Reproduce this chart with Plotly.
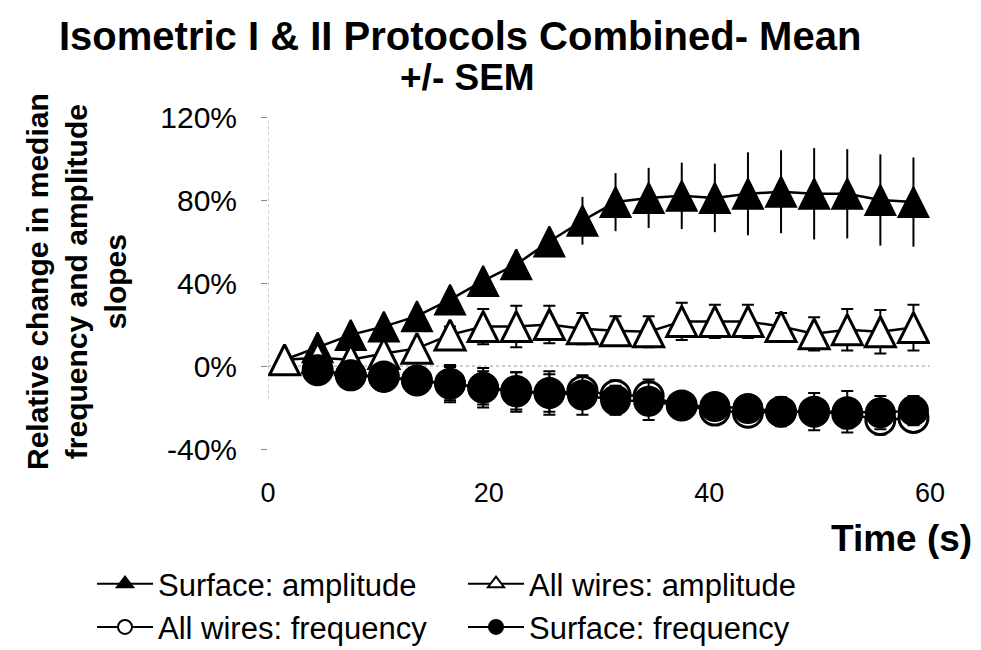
import plotly.graph_objects as go

# ---------------- data ----------------
time = [1.5, 4.5, 7.5, 10.5, 13.5, 16.5, 19.5, 22.5, 25.5, 28.5,
        31.5, 34.5, 37.5, 40.5, 43.5, 46.5, 49.5, 52.5, 55.5, 58.5]

surface_amp = [3, 9, 15, 19, 24, 32, 41, 49, 60, 70,
               79, 81, 82, 81, 83, 84, 83, 83, 80, 79]
surface_amp_sem = [0, 1, 2, 2, 3, 3, 4, 4, 6, 11.5,
                   14, 14.5, 16, 16.5, 20, 20, 22, 21.5, 22, 21.5]

wires_amp = [3, 4, 3, 6, 8.5, 15, 19, 19, 20, 18,
             17, 16.5, 21.5, 21.5, 21.5, 19, 15.5, 17.5, 16.5, 18.5]
wires_amp_sem = [0, 1, 2, 2, 3, 4, 8.5, 10, 9, 7.5,
                 7, 7.5, 9, 8, 8, 6.5, 8, 10, 10.5, 11]

time_freq = [4.5, 7.5, 10.5, 13.5, 16.5, 19.5, 22.5, 25.5, 28.5,
             31.5, 34.5, 37.5, 40.5, 43.5, 46.5, 49.5, 52.5, 55.5, 58.5]

wires_freq = [-2, -4.5, -5, -7, -8.5, -10.5, -12, -13, -12,
              -14, -14.5, -19, -21.5, -22.5, -22, -22, -23, -26, -25]
wires_freq_sem = [1, 2, 3, 4, 8, 8, 9, 9, 6,
                  7, 8, 6, 6, 6, 6, 6, 7, 7, 6]

surface_freq = [-2, -4.5, -5.5, -7, -8.5, -10.5, -12.5, -13, -14,
                -16.5, -17, -19, -19.5, -20.5, -22, -22, -22, -22.5, -21.5]
surface_freq_sem = [1, 2, 3, 4, 9, 9.5, 9.5, 10.5, 9.5,
                    7, 9, 6, 6, 6, 7, 9, 10, 8, 7]

x_ticks = [0, 20, 40, 60]
y_ticks = [-40, 0, 40, 80, 120]
y_ticktext = ["-40%", "0%", "40%", "80%", "120%"]

series_names = ["Surface: amplitude", "All wires: amplitude",
                "All wires: frequency", "Surface: frequency"]

# ---------------- layout helpers ----------------
W, H = 981, 650
L, R, T, B = 268, 51, 117, 201
PW, PH = W - L - R, H - T - B
FONT = "Liberation Sans, Arial, sans-serif"


def px_x(px):
    return (px - L) / PW


def px_y(py):
    return (H - B - py) / PH


TRI = 30
CIR = 29

fig = go.Figure()

# Surface: amplitude (filled triangles)
fig.add_trace(go.Scatter(
    x=time, y=surface_amp, mode="lines+markers", showlegend=False,
    line=dict(color="black", width=2.5),
    marker=dict(symbol="arrow-down", angle=180, standoff=TRI / 2, size=TRI,
                color="black", line=dict(color="black", width=2)),
    error_y=dict(type="data", array=surface_amp_sem, color="black",
                 thickness=2, width=0),
))

# All wires: amplitude (open triangles, white fill)
fig.add_trace(go.Scatter(
    x=time, y=wires_amp, mode="lines+markers", showlegend=False,
    line=dict(color="black", width=2.5),
    marker=dict(symbol="arrow-down", angle=180, standoff=TRI / 2, size=TRI,
                color="white", line=dict(color="black", width=3)),
    error_y=dict(type="data", array=wires_amp_sem, color="black",
                 thickness=2, width=6),
))

# All wires: frequency (open circles)
fig.add_trace(go.Scatter(
    x=time_freq, y=wires_freq, mode="lines+markers", showlegend=False,
    line=dict(color="black", width=2.5),
    marker=dict(symbol="circle", size=CIR, color="white",
                line=dict(color="black", width=3)),
    error_y=dict(type="data", array=wires_freq_sem, color="black",
                 thickness=2, width=6),
))

# Surface: frequency (filled circles)
fig.add_trace(go.Scatter(
    x=time_freq, y=surface_freq, mode="lines+markers", showlegend=False,
    line=dict(color="black", width=2.5),
    marker=dict(symbol="circle", size=CIR, color="black",
                line=dict(color="black", width=2)),
    error_y=dict(type="data", array=surface_freq_sem, color="black",
                 thickness=2, width=6),
))

# legend-only entries
legend_styles = [("triangle-up", "black"), ("triangle-up", "white"),
                 ("circle", "white"), ("circle", "black")]
for name, (sym, fill) in zip(series_names, legend_styles):
    fig.add_trace(go.Scatter(
        x=[None], y=[None], mode="lines+markers", name=name,
        line=dict(color="black", width=2),
        marker=dict(symbol=sym, size=14, color=fill,
                    line=dict(color="black", width=2)),
    ))

fig.update_layout(
    width=W, height=H,
    margin=dict(l=L, r=R, t=T, b=B, autoexpand=False),
    paper_bgcolor="white", plot_bgcolor="white",
    font=dict(family=FONT, color="black"),
    xaxis=dict(range=[0, 60], tickvals=x_ticks, showgrid=False,
               zeroline=False, showline=False, ticks="",
               tickfont=dict(family=FONT, size=27, color="black"),
               ticklabelstandoff=25),
    yaxis=dict(range=[-40, 120], tickvals=y_ticks, ticktext=y_ticktext,
               showgrid=False, zeroline=False, showline=False,
               ticks="outside", ticklen=6, tickcolor="#888",
               tickfont=dict(family=FONT, size=30, color="black"),
               ticklabelstandoff=18),
    shapes=[
        dict(type="line", xref="x", yref="paper", x0=0, x1=0, y0=0.15, y1=1,
             layer="below", line=dict(color="#999", width=1, dash="dot")),
        dict(type="line", xref="paper", yref="y", x0=0, x1=1, y0=0, y1=0,
             layer="below", line=dict(color="#999", width=1, dash="dot")),
    ],
    legend=dict(orientation="h", x=px_x(92), xanchor="left",
                y=px_y(557), yanchor="top",
                font=dict(family=FONT, size=31, color="black"),
                itemwidth=56, entrywidth=300, entrywidthmode="pixels",
                traceorder="normal", bgcolor="rgba(0,0,0,0)"),
    annotations=[
        dict(text="<b>Isometric I & II Protocols Combined- Mean</b>",
             xref="paper", yref="paper", x=px_x(460), y=px_y(36),
             xanchor="center", yanchor="middle", showarrow=False,
             font=dict(family=FONT, size=40, color="black")),
        dict(text="<b>+/- SEM</b>",
             xref="paper", yref="paper", x=px_x(467), y=px_y(77),
             xanchor="center", yanchor="middle", showarrow=False,
             font=dict(family=FONT, size=37, color="black")),
        dict(text="<b>Relative change in median<br>frequency and amplitude<br>slopes</b>",
             xref="paper", yref="paper", x=px_x(76), y=px_y(281),
             xanchor="center", yanchor="middle", showarrow=False,
             textangle=-90,
             font=dict(family=FONT, size=30, color="black")),
        dict(text="<b>Time (s)</b>",
             xref="paper", yref="paper", x=px_x(901), y=px_y(538),
             xanchor="center", yanchor="middle", showarrow=False,
             font=dict(family=FONT, size=37, color="black")),
    ],
)

fig.write_html("out.html")
